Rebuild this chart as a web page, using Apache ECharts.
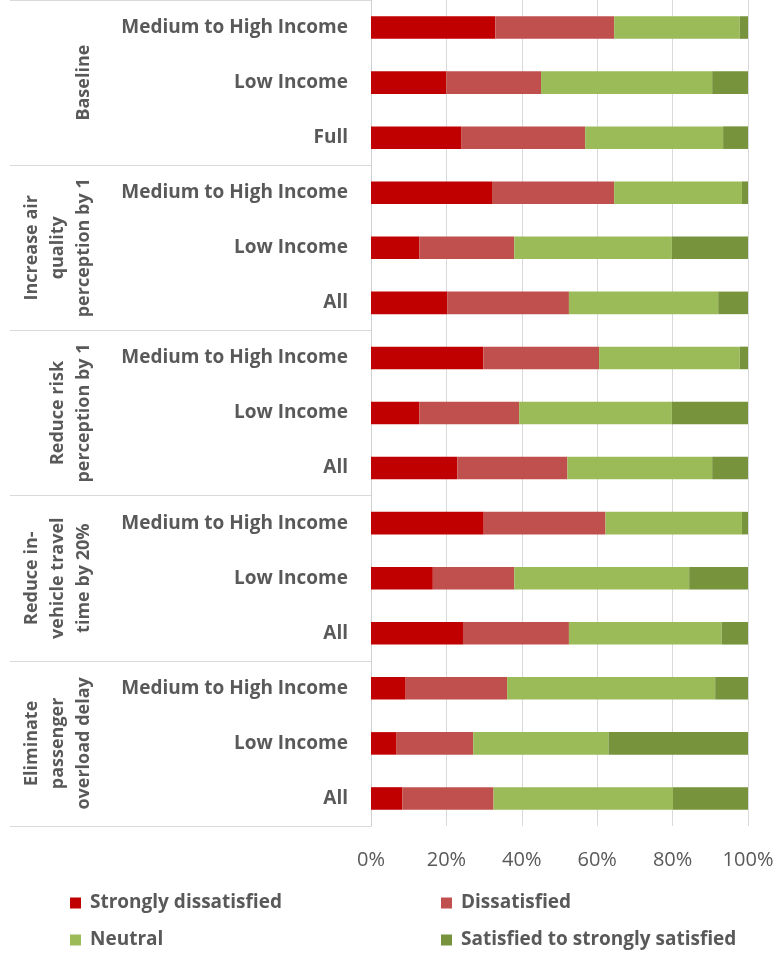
<!DOCTYPE html>
<html>
<head>
<meta charset="utf-8">
<script src="https://cdn.jsdelivr.net/npm/echarts@6/dist/echarts.min.js"></script>
<style>
  html, body { margin: 0; padding: 0; background: #ffffff; }
  #chart { width: 780px; height: 953px; }
</style>
</head>
<body>
<div id="chart"></div>
<script>
// Row labels, top to bottom
const rowLabels = [
  'Medium to High Income', 'Low Income', 'Full',
  'Medium to High Income', 'Low Income', 'All',
  'Medium to High Income', 'Low Income', 'All',
  'Medium to High Income', 'Low Income', 'All',
  'Medium to High Income', 'Low Income', 'All'
];

// Scenario groups, three rows each
const groupLabels = [
  'Baseline',
  'Increase air\nquality\nperception by 1',
  'Reduce risk\nperception by 1',
  'Reduce in-\nvehicle travel\ntime by 20%',
  'Eliminate\npassenger\noverload delay'
];

const seriesNames = [
  'Strongly dissatisfied',
  'Dissatisfied',
  'Neutral',
  'Satisfied to strongly satisfied'
];

// Shares (%) per row
const stronglyDissatisfied = [33.0, 20.0, 23.9, 32.1, 12.8, 20.2, 29.8, 12.8, 22.9, 29.9, 16.4, 24.4, 9.2, 6.8, 8.3];
const dissatisfied         = [31.5, 25.1, 32.9, 32.4, 25.2, 32.3, 30.7, 26.5, 29.2, 32.3, 21.6, 28.1, 26.9, 20.3, 24.2];
const neutral              = [33.3, 45.4, 36.6, 33.9, 41.8, 39.6, 37.3, 40.5, 38.4, 36.2, 46.4, 40.5, 55.2, 35.9, 47.6];
const satisfied            = [2.2, 9.5, 6.6, 1.6, 20.2, 7.9, 2.2, 20.2, 9.5, 1.6, 15.6, 7.0, 8.7, 37.0, 19.9];

const xTicks = [0, 20, 40, 60, 80, 100];

const colors = ['#C00000', '#C0504D', '#9BBB59', '#77933C'];
const textColor = '#595959';
const fontFamily = '"Open Sans", "DejaVu Sans", sans-serif';

const values = [stronglyDissatisfied, dissatisfied, neutral, satisfied];

const chart = echarts.init(document.getElementById('chart'), null, { renderer: 'canvas' });

// Legend laid out as two columns, two rows
const legendSlots = [
  { left: 70, top: 892 },
  { left: 441, top: 892 },
  { left: 70, top: 929 },
  { left: 441, top: 929 }
];

chart.setOption({
  animation: false,
  backgroundColor: '#ffffff',
  color: colors,
  grid: { left: 371, right: 32, top: 0, bottom: 127, containLabel: false },
  xAxis: {
    type: 'value',
    min: xTicks[0],
    max: xTicks[xTicks.length - 1],
    interval: 20,
    axisLine: { show: false },
    axisTick: { show: false },
    splitLine: { show: true, lineStyle: { color: '#D9D9D9', width: 1 } },
    axisLabel: {
      formatter: v => v + '%',
      color: textColor,
      fontFamily: fontFamily,
      fontSize: 20,
      margin: 24
    }
  },
  yAxis: [
    {
      type: 'category',
      data: rowLabels,
      inverse: true,
      axisLine: { show: true, lineStyle: { color: '#D0D0D0', width: 1 } },
      axisTick: { show: false },
      axisLabel: {
        color: textColor,
        fontFamily: fontFamily,
        fontSize: 19,
        fontWeight: 'bold',
        margin: 23,
        interval: 0
      }
    },
    {
      // group separators
      type: 'category',
      data: groupLabels,
      inverse: true,
      position: 'left',
      offset: 361,
      axisLine: { show: false },
      axisTick: { show: true, inside: true, length: 361, interval: 0, lineStyle: { color: '#D9D9D9', width: 1 } },
      axisLabel: { show: false },
      splitLine: { show: false }
    },
    {
      // group titles
      type: 'category',
      data: groupLabels,
      inverse: true,
      position: 'left',
      offset: 274,
      axisLine: { show: false },
      axisTick: { show: false },
      splitLine: { show: false },
      axisLabel: {
        interval: 0,
        rotate: 90,
        margin: 0,
        align: 'center',
        color: textColor,
        fontFamily: fontFamily,
        fontSize: 18,
        fontWeight: 'bold',
        lineHeight: 26
      }
    }
  ],
  legend: seriesNames.map((name, i) => ({
    data: [name],
    left: legendSlots[i].left,
    top: legendSlots[i].top,
    padding: 0,
    orient: 'horizontal',
    itemWidth: 11,
    itemHeight: 11,
    icon: 'rect',
    selectedMode: false,
    textStyle: {
      color: textColor,
      fontFamily: fontFamily,
      fontSize: 19,
      fontWeight: 'bold',
      lineHeight: 22,
      padding: [0, 0, 0, 4]
    }
  })),
  series: seriesNames.map((name, i) => ({
    name: name,
    type: 'bar',
    stack: 'share',
    yAxisIndex: 0,
    barCategoryGap: '59%',
    itemStyle: { color: colors[i] },
    data: values[i]
  }))
});
</script>
</body>
</html>
